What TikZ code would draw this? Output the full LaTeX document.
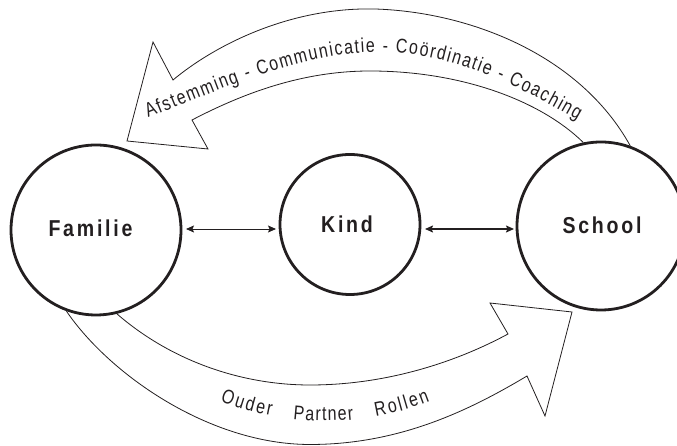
\documentclass[tikz,border=0pt]{standalone}
\usepackage{fontspec}
\usetikzlibrary{arrows.meta,decorations.text}
\newfontfamily\arcfont[FakeStretch=0.8]{Liberation Sans}
\newfontfamily\labfont[FakeStretch=0.85,LetterSpace=12]{Liberation Sans Bold}
\definecolor{ink}{RGB}{35,31,32}
\newcommand\arcsize{\arcfont\fontsize{20}{24}\selectfont}
\begin{document}
\begin{tikzpicture}[x=1pt,y=1pt,
  band/.style={draw=ink, line width=0.8pt, line join=miter},
  ring/.style={circle, draw=ink, fill=white, line width=2.8pt, inner sep=0pt},
  caption/.style={font=\labfont\fontsize{23}{27}\selectfont, text=ink, inner sep=0pt},
  link/.style={draw=ink, {Stealth[length=8pt,width=7pt,inset=1.5pt]}-{Stealth[length=8pt,width=7pt,inset=1.5pt]}},
  arctext/.style={decorate, decoration={text along path, text align=fit to path, text color=ink}},
]
\useasboundingbox (0,0) rectangle (677,446);

% the three partners
\node[ring, minimum size=170pt] (fam) at (96,216) {};
\node[ring, minimum size=140pt] (kid) at (350,221.5) {};
\node[ring, minimum size=168pt] (sch) at (601,220) {};
\node[caption] (famlab) at (90.5,217.5) {Familie};
\node[caption] (kidlab) at (347,222) {Kind};
\node[caption] (schlab) at (602,221) {School};

% links with the child
\draw[link, line width=0.9pt] ([shift={(3.6pt,1pt)}]fam.east) -- ([shift={(-2.6pt,-4.5pt)}]kid.west);
\draw[link, line width=1.5pt] ([shift={(3.6pt,-4.5pt)}]kid.east) -- ([shift={(-1.6pt,-3pt)}]sch.west);

% broad arrow from school back to the family
\draw[band] (sch.70.7) .. controls (580,391) and (470,434) .. (375,437)
  .. controls (290,439) and (215,401) .. (173,366)
  -- (153,404) -- (127,305) -- (208,297) -- (192,326)
  .. controls (240,351) and (300,375) .. (370,375)
  .. controls (460,375) and (540,346) .. (sch.102);
\path[arctext, decoration={text={|\arcsize|Afstemming - Communicatie - Coördinatie - Coaching}}]
  (148,328) .. controls (335,404) and (402,428) .. (577,326);

% broad arrow from the family to school
\draw[band] (fam.284) .. controls (170,86) and (240,61) .. (310,61)
  .. controls (390,61) and (460,86) .. (508,112)
  -- (490,143) -- (572,134) -- (545,30) -- (527,70)
  .. controls (470,36) and (400,1.5) .. (310,1.5)
  .. controls (210,1.5) and (110,71) .. (fam.250.7);
\path[arctext, decoration={text={|\arcsize|Ouder}}]
  (325,315) ++(-111.2:290) arc[start angle=-111.2, end angle=-100.7, radius=290];
\path[arctext, decoration={text={|\arcsize|Partner}}]
  (325,315) ++(-96.3:290) arc[start angle=-96.3, end angle=-84.3, radius=290];
\path[arctext, decoration={text={|\arcsize|Rollen}}]
  (325,315) ++(-79.9:290) arc[start angle=-79.9, end angle=-68.8, radius=290];
\end{tikzpicture}
\end{document}
